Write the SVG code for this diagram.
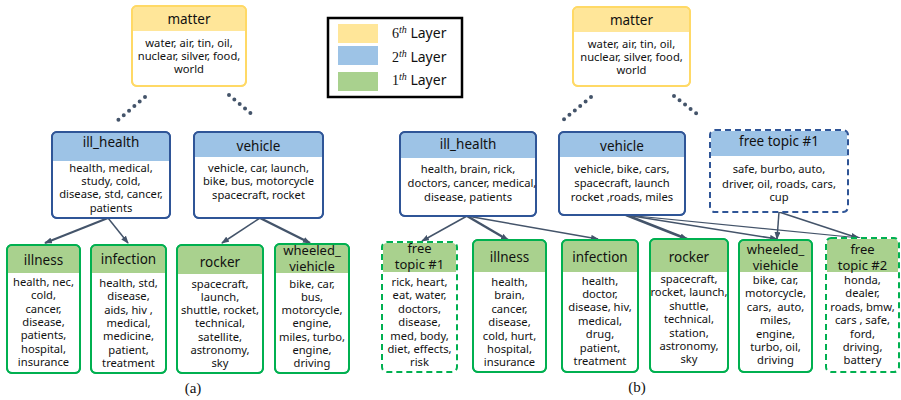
<svg xmlns="http://www.w3.org/2000/svg" width="901" height="400" viewBox="0 0 901 400">
<defs>
<marker id="ah" markerWidth="8" markerHeight="6" refX="7" refY="3" orient="auto" markerUnits="userSpaceOnUse">
<path d="M0,0 L8,3 L0,6 Z" fill="#44546A"/>
</marker>
<style>
.box{fill:#fff;stroke-width:2}
.bl{stroke:#2F5597}
.gr{stroke:#00B050}
.ye{stroke:#FFD966}
.ol{fill:none;stroke-width:2}
.dash{stroke-dasharray:6 4}
.hb{fill:#9DC3E6}
.hg{fill:#A9D18E}
.hy{fill:#FFE699}
text{font-family:"Noto Sans","Open Sans",sans-serif;fill:#111;text-anchor:middle}
.t{font-size:13.5px}
.t2{font-size:13px}
.b{font-size:11.2px}
.cap{font-family:"Liberation Serif",serif;font-size:15px}
.lg{font-size:14px;text-anchor:start}
.conn{stroke:#44546A;fill:none;marker-end:url(#ah)}
.dot{stroke:#44546A;stroke-width:4;stroke-linecap:round;stroke-dasharray:0 7;fill:none}
</style>
</defs>
<rect width="901" height="400" fill="#fff"/>

<g id="legend">
<rect x="328" y="18" width="134" height="79" fill="#fff" stroke="#000" stroke-width="2.5"/>
<rect x="338" y="24" width="40" height="19" fill="#FFE699"/>
<rect x="338" y="46" width="40" height="19" fill="#9DC3E6"/>
<rect x="338" y="72" width="40" height="19" fill="#A9D18E"/>
<text class="lg" x="392" y="38"><tspan font-family="Liberation Serif">6</tspan><tspan font-family="Liberation Serif" font-style="italic" font-size="10" dy="-5">th</tspan><tspan dy="5"> Layer</tspan></text>
<text class="lg" x="392" y="62"><tspan font-family="Liberation Serif">2</tspan><tspan font-family="Liberation Serif" font-style="italic" font-size="10" dy="-5">th</tspan><tspan dy="5"> Layer</tspan></text>
<text class="lg" x="392" y="85"><tspan font-family="Liberation Serif">1</tspan><tspan font-family="Liberation Serif" font-style="italic" font-size="10" dy="-5">th</tspan><tspan dy="5"> Layer</tspan></text>
</g>

<g id="connectors">
<path class="dot" d="M145,97 L117,121"/>
<path class="dot" d="M229,95 L255,117"/>
<path class="dot" d="M591,97 L562,121"/>
<path class="dot" d="M674,96 L701,117"/>
<path class="conn" stroke-width="2" d="M108,218 L45,243"/>
<path class="conn" stroke-width="1.5" d="M108,218 L128,243"/>
<path class="conn" stroke-width="1.5" d="M260,218 L222,243"/>
<path class="conn" stroke-width="2.5" d="M260,218 L310,243"/>
<path class="conn" stroke-width="1.5" d="M467,216 L422,241"/>
<path class="conn" stroke-width="2.5" d="M467,216 L508,240"/>
<path class="conn" stroke-width="1.5" d="M467,216 L598,239"/>
<path class="conn" stroke-width="2.5" d="M626,215 L687,239"/>
<path class="conn" stroke-width="1.5" d="M626,215 L777,239"/>
<path class="conn" stroke-width="1.2" d="M626,215 L860,238"/>
<path class="conn" stroke-width="1.5" d="M779,212 L777,239"/>
<path class="conn" stroke-width="1.5" d="M779,212 L858,238"/>
</g>

<g id="matter_a">
<rect class="box ye" x="132" y="6" width="114" height="80" rx="5"/>
<path class="hy" d="M133,31 V11 A4,4 0 0 1 137,7 H241 A4,4 0 0 1 245,11 V31 Z"/>
<rect class="ol ye" x="132" y="6" width="114" height="80" rx="5"/>
<text class="t" x="189" y="24">matter</text>
<text class="b" x="189" y="47">water, air, tin, oil,</text>
<text class="b" x="189" y="60">nuclear, silver, food,</text>
<text class="b" x="189" y="73">world</text>
</g>

<g id="ill_health_a">
<rect class="box bl" x="52" y="132" width="118" height="86" rx="5"/>
<path class="hb" d="M53,161 V137 A4,4 0 0 1 57,133 H165 A4,4 0 0 1 169,137 V161 Z"/>
<rect class="ol bl" x="52" y="132" width="118" height="86" rx="5"/>
<text class="t" x="111" y="147">ill_health</text>
<text class="b" x="111" y="172">health, medical,</text>
<text class="b" x="111" y="185">study, cold,</text>
<text class="b" x="111" y="198">disease, std, cancer,</text>
<text class="b" x="111" y="212">patients</text>
</g>

<g id="vehicle_a">
<rect class="box bl" x="194" y="132" width="129" height="86" rx="5"/>
<path class="hb" d="M195,157 V137 A4,4 0 0 1 199,133 H318 A4,4 0 0 1 322,137 V157 Z"/>
<rect class="ol bl" x="194" y="132" width="129" height="86" rx="5"/>
<text class="t" x="258.5" y="151">vehicle</text>
<text class="b" x="258.5" y="172">vehicle, car, launch,</text>
<text class="b" x="258.5" y="185">bike, bus, motorcycle</text>
<text class="b" x="258.5" y="199">spacecraft, rocket</text>
</g>

<g id="illness_a">
<rect class="box gr" x="7" y="245" width="73" height="128" rx="5"/>
<path class="hg" d="M8,273 V250 A4,4 0 0 1 12,246 H75 A4,4 0 0 1 79,250 V273 Z"/>
<rect class="ol gr" x="7" y="245" width="73" height="128" rx="5"/>
<text class="t" x="43.5" y="265">illness</text>
<text class="b" x="43.5" y="286">health, nec,</text>
<text class="b" x="43.5" y="299.3">cold,</text>
<text class="b" x="43.5" y="312.6">cancer,</text>
<text class="b" x="43.5" y="325.9">disease,</text>
<text class="b" x="43.5" y="339.2">patients,</text>
<text class="b" x="43.5" y="352.5">hospital,</text>
<text class="b" x="43.5" y="365.8">insurance</text>
</g>

<g id="infection_a">
<rect class="box gr" x="91" y="245" width="75" height="128" rx="5"/>
<path class="hg" d="M92,273 V250 A4,4 0 0 1 96,246 H161 A4,4 0 0 1 165,250 V273 Z"/>
<rect class="ol gr" x="91" y="245" width="75" height="128" rx="5"/>
<text class="t" x="128.5" y="264">infection</text>
<text class="b" x="128.5" y="287">health, std,</text>
<text class="b" x="128.5" y="300.3">disease,</text>
<text class="b" x="128.5" y="313.6">aids, hiv ,</text>
<text class="b" x="128.5" y="326.9">medical,</text>
<text class="b" x="128.5" y="340.2">medicine,</text>
<text class="b" x="128.5" y="353.5">patient,</text>
<text class="b" x="128.5" y="366.8">treatment</text>
</g>

<g id="rocker_a">
<rect class="box gr" x="177" y="245" width="86" height="128" rx="5"/>
<path class="hg" d="M178,274 V250 A4,4 0 0 1 182,246 H258 A4,4 0 0 1 262,250 V274 Z"/>
<rect class="ol gr" x="177" y="245" width="86" height="128" rx="5"/>
<text class="t" x="220" y="267">rocker</text>
<text class="b" x="220" y="287.5">spacecraft,</text>
<text class="b" x="220" y="300.8">launch,</text>
<text class="b" x="220" y="314.1">shuttle, rocket,</text>
<text class="b" x="220" y="327.4">technical,</text>
<text class="b" x="220" y="340.7">satellite,</text>
<text class="b" x="220" y="354">astronomy,</text>
<text class="b" x="220" y="367.3">sky</text>
</g>

<g id="wheeled_a">
<rect class="box gr" x="275" y="244" width="74" height="129" rx="5"/>
<path class="hg" d="M276,273 V249 A4,4 0 0 1 280,245 H344 A4,4 0 0 1 348,249 V273 Z"/>
<rect class="ol gr" x="275" y="244" width="74" height="129" rx="5"/>
<text class="t2" x="312" y="255">wheeled_</text>
<text class="t2" x="312" y="271">viehicle</text>
<text class="b" x="312" y="287.5">bike, car,</text>
<text class="b" x="312" y="300.8">bus,</text>
<text class="b" x="312" y="314.1">motorcycle,</text>
<text class="b" x="312" y="327.4">engine,</text>
<text class="b" x="312" y="340.7">miles, turbo,</text>
<text class="b" x="312" y="354">engine,</text>
<text class="b" x="312" y="367.3">driving</text>
</g>

<g id="matter_b">
<rect class="box ye" x="573" y="7" width="117" height="79" rx="5"/>
<path class="hy" d="M574,32 V12 A4,4 0 0 1 578,8 H685 A4,4 0 0 1 689,12 V32 Z"/>
<rect class="ol ye" x="573" y="7" width="117" height="79" rx="5"/>
<text class="t" x="631.5" y="25">matter</text>
<text class="b" x="631.5" y="48">water, air, tin, oil,</text>
<text class="b" x="631.5" y="61">nuclear, silver, food,</text>
<text class="b" x="631.5" y="74">world</text>
</g>

<g id="ill_health_b">
<rect class="box bl" x="400" y="132" width="136" height="84" rx="5"/>
<path class="hb" d="M401,158 V137 A4,4 0 0 1 405,133 H531 A4,4 0 0 1 535,137 V158 Z"/>
<rect class="ol bl" x="400" y="132" width="136" height="84" rx="5"/>
<text class="t" x="468" y="149">ill_health</text>
<text class="b" x="468" y="173">health, brain, rick,</text>
<text class="b" x="472" y="187">doctors, cancer, medical,</text>
<text class="b" x="468" y="201">disease, patients</text>
</g>

<g id="vehicle_b">
<rect class="box bl" x="559" y="132" width="126" height="83" rx="5"/>
<path class="hb" d="M560,157 V137 A4,4 0 0 1 564,133 H680 A4,4 0 0 1 684,137 V157 Z"/>
<rect class="ol bl" x="559" y="132" width="126" height="83" rx="5"/>
<text class="t" x="622" y="151">vehicle</text>
<text class="b" x="622" y="173">vehicle, bike, cars,</text>
<text class="b" x="622" y="187">spacecraft, launch</text>
<text class="b" x="622" y="201">rocket ,roads, miles</text>
</g>

<g id="free_topic1_top">
<rect class="box" x="710" y="130" width="138" height="82" rx="5" stroke="none"/>
<path class="hb" d="M711,156 V135 A4,4 0 0 1 715,131 H843 A4,4 0 0 1 847,135 V156 Z"/>
<rect class="ol bl dash" x="710" y="130" width="138" height="82" rx="5"/>
<text class="t" x="779" y="146">free topic #1</text>
<text class="b" x="779" y="173">safe, burbo, auto,</text>
<text class="b" x="779" y="188">driver, oil, roads, cars,</text>
<text class="b" x="779" y="201">cup</text>
</g>

<g id="free_topic1_b">
<rect class="box" x="382" y="242" width="75" height="130" rx="5" stroke="none"/>
<path class="hg" d="M383,272 V247 A4,4 0 0 1 387,243 H452 A4,4 0 0 1 456,247 V272 Z"/>
<rect class="ol gr dash" x="382" y="242" width="75" height="130" rx="5"/>
<text class="t2" x="419.5" y="253">free</text>
<text class="t2" x="419.5" y="269">topic #1</text>
<text class="b" x="419.5" y="286">rick, heart,</text>
<text class="b" x="419.5" y="299.4">eat, water,</text>
<text class="b" x="419.5" y="312.8">doctors,</text>
<text class="b" x="419.5" y="326.2">disease,</text>
<text class="b" x="419.5" y="339.6">med, body,</text>
<text class="b" x="419.5" y="353">diet, effects,</text>
<text class="b" x="419.5" y="366.4">risk</text>
</g>

<g id="illness_b">
<rect class="box gr" x="473" y="240" width="73" height="132" rx="5"/>
<path class="hg" d="M474,272 V245 A4,4 0 0 1 478,241 H541 A4,4 0 0 1 545,245 V272 Z"/>
<rect class="ol gr" x="473" y="240" width="73" height="132" rx="5"/>
<text class="t" x="509.5" y="262">illness</text>
<text class="b" x="509.5" y="286">health,</text>
<text class="b" x="509.5" y="299.4">brain,</text>
<text class="b" x="509.5" y="312.8">cancer,</text>
<text class="b" x="509.5" y="326.2">disease,</text>
<text class="b" x="509.5" y="339.6">cold, hurt,</text>
<text class="b" x="509.5" y="353">hospital,</text>
<text class="b" x="509.5" y="366.4">insurance</text>
</g>

<g id="infection_b">
<rect class="box gr" x="562" y="240" width="76" height="132" rx="5"/>
<path class="hg" d="M563,272 V245 A4,4 0 0 1 567,241 H633 A4,4 0 0 1 637,245 V272 Z"/>
<rect class="ol gr" x="562" y="240" width="76" height="132" rx="5"/>
<text class="t" x="600" y="262">infection</text>
<text class="b" x="600" y="284.5">health,</text>
<text class="b" x="600" y="297.9">doctor,</text>
<text class="b" x="600" y="311.3">disease, hiv,</text>
<text class="b" x="600" y="324.7">medical,</text>
<text class="b" x="600" y="338.1">drug,</text>
<text class="b" x="600" y="351.5">patient,</text>
<text class="b" x="600" y="364.9">treatment</text>
</g>

<g id="rocker_b">
<rect class="box gr" x="650" y="239" width="78" height="133" rx="5"/>
<path class="hg" d="M651,272 V244 A4,4 0 0 1 655,240 H723 A4,4 0 0 1 727,244 V272 Z"/>
<rect class="ol gr" x="650" y="239" width="78" height="133" rx="5"/>
<text class="t" x="689" y="262">rocker</text>
<text class="b" x="689" y="283">spacecraft,</text>
<text class="b" x="689" y="296.4">rocket, launch,</text>
<text class="b" x="689" y="309.8">shuttle,</text>
<text class="b" x="689" y="323.2">technical,</text>
<text class="b" x="689" y="336.6">station,</text>
<text class="b" x="689" y="350">astronomy,</text>
<text class="b" x="689" y="363.4">sky</text>
</g>

<g id="wheeled_b">
<rect class="box gr" x="739" y="240" width="73" height="132" rx="5"/>
<path class="hg" d="M740,272 V245 A4,4 0 0 1 744,241 H807 A4,4 0 0 1 811,245 V272 Z"/>
<rect class="ol gr" x="739" y="240" width="73" height="132" rx="5"/>
<text class="t2" x="775.5" y="254">wheeled_</text>
<text class="t2" x="775.5" y="269.5">viehicle</text>
<text class="b" x="775.5" y="284">bike, car,</text>
<text class="b" x="775.5" y="297.4">motorcycle,</text>
<text class="b" x="775.5" y="310.8" xml:space="preserve">cars,  auto,</text>
<text class="b" x="775.5" y="324.2">miles,</text>
<text class="b" x="775.5" y="337.6">engine,</text>
<text class="b" x="775.5" y="351">turbo, oil,</text>
<text class="b" x="775.5" y="364.4">driving</text>
</g>

<g id="free_topic2_b">
<rect class="box" x="826" y="238" width="73" height="134" rx="5" stroke="none"/>
<path class="hg" d="M827,272 V243 A4,4 0 0 1 831,239 H894 A4,4 0 0 1 898,243 V272 Z"/>
<rect class="ol gr dash" x="826" y="238" width="73" height="134" rx="5"/>
<text class="t2" x="862.5" y="254">free</text>
<text class="t2" x="862.5" y="269.5">topic #2</text>
<text class="b" x="862.5" y="284">honda,</text>
<text class="b" x="862.5" y="297.4">dealer,</text>
<text class="b" x="862.5" y="310.8">roads, bmw,</text>
<text class="b" x="862.5" y="324.2">cars , safe,</text>
<text class="b" x="862.5" y="337.6">ford,</text>
<text class="b" x="862.5" y="351">driving,</text>
<text class="b" x="862.5" y="364.4">battery</text>
</g>

<text class="cap" x="193" y="393">(a)</text>
<text class="cap" x="637" y="392">(b)</text>
</svg>
